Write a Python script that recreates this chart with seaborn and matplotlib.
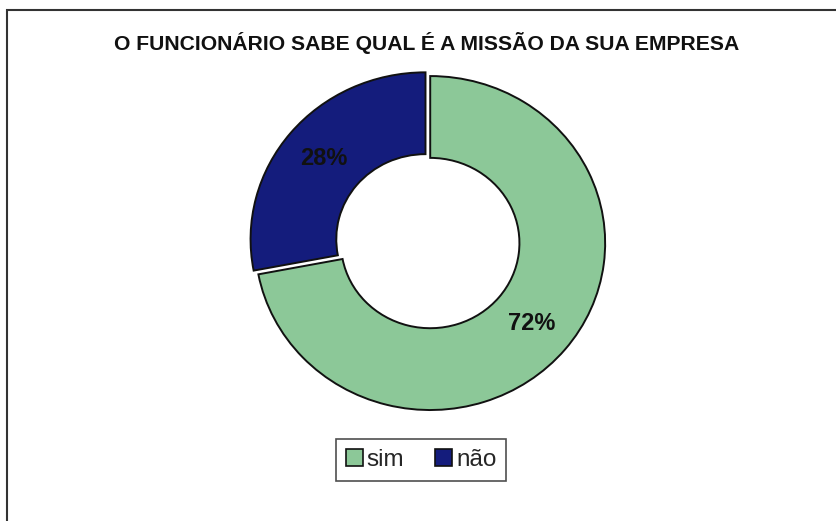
import matplotlib
matplotlib.use("Agg")
import matplotlib.pyplot as plt
from matplotlib.patches import Rectangle, Patch
import seaborn as sns

# Survey answers (percent)
categories = ["sim", "não"]
shares = [72, 28]
title_text = "O FUNCIONÁRIO SABE QUAL É A MISSÃO DA SUA EMPRESA"

sns.set_theme(style="white")
plt.rcParams["font.family"] = ["Liberation Sans", "DejaVu Sans"]

colors = ["#8cc898", "#141c7c"]

fig = plt.figure(figsize=(8.37, 5.21), dpi=100)
fig.patch.set_facecolor("white")

# Donut axes
ax = fig.add_axes([0.305, 0.213, 0.418, 0.641])
wedges, texts, autotexts = ax.pie(
    shares,
    labels=None,
    colors=colors,
    startangle=90,
    counterclock=False,
    explode=[0, 0.035],
    autopct="%1.0f%%",
    pctdistance=0.755,
    wedgeprops=dict(width=0.49, edgecolor="#111111", linewidth=1.4),
    textprops=dict(fontsize=17, fontweight="bold", color="#111111"),
)
ax.set_aspect("auto")
ax.set_xlim(-1, 1)
ax.set_ylim(-1, 1)
ax.axis("off")
for w in wedges:
    w.set_clip_on(False)

fig.text(0.510, 0.917, title_text, ha="center", va="center",
         fontsize=15.2, fontweight="bold", color="#111111")

handles = [Patch(facecolor=c, edgecolor="#111111", linewidth=1.2) for c in colors]
leg = fig.legend(handles, categories, loc="center", bbox_to_anchor=(0.503, 0.117),
                 ncol=2, frameon=True, fancybox=False, fontsize=17.5,
                 handlelength=0.7, handleheight=0.7, handletextpad=0.15,
                 columnspacing=1.3, borderpad=0.4)
leg.get_frame().set_edgecolor("#222222")
leg.get_frame().set_linewidth(1.2)

# Chart frame
fig.add_artist(Rectangle((7 / 837, -0.02), 1.0, (521 - 10) / 521 + 0.02,
                         transform=fig.transFigure, fill=False,
                         edgecolor="#333333", linewidth=1.5, clip_on=False))

fig.savefig("out.png", dpi=100, facecolor="white")
